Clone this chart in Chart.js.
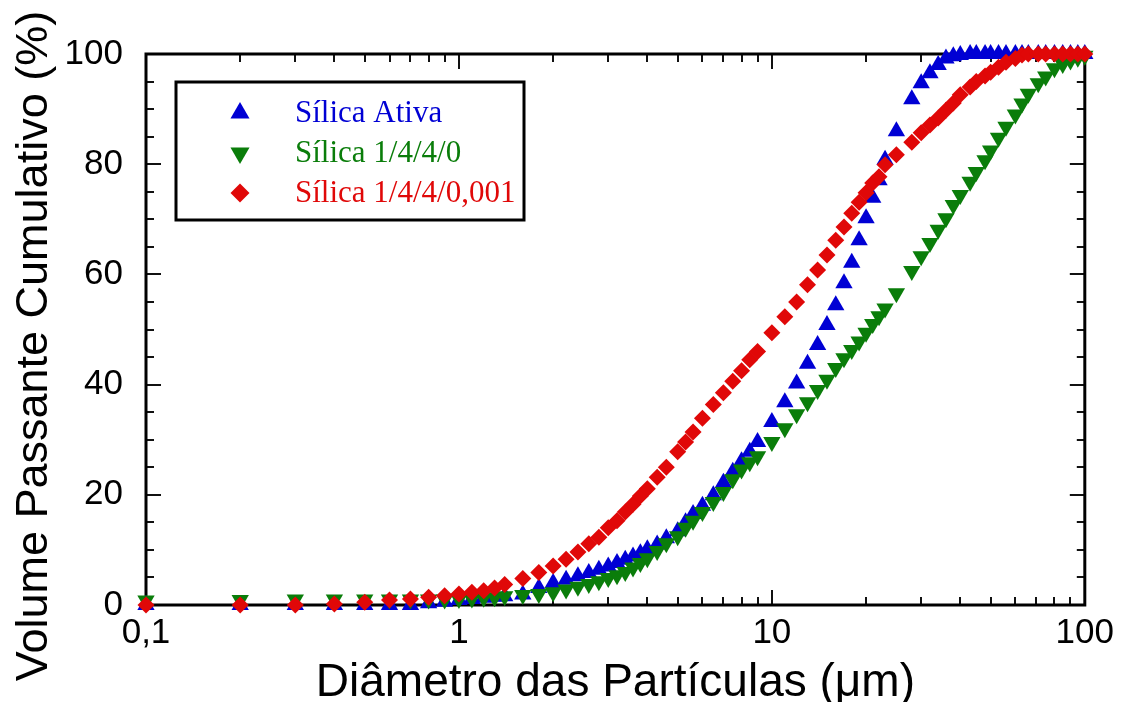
<!DOCTYPE html>
<html>
<head>
<meta charset="utf-8">
<script src="https://cdn.jsdelivr.net/npm/chart.js@4.4.1/dist/chart.umd.min.js"></script>
<style>
  html, body { margin: 0; padding: 0; background: #fff; }
  #wrap { width: 1121px; height: 702px; }
</style>
</head>
<body>
<div id="wrap"><canvas id="psdChart" width="1121" height="702"></canvas></div>
<script>
// diâmetro (µm) - mesma grade de classes para as três amostras
const diameters = [
  0.1, 0.2, 0.3, 0.4, 0.5, 0.6, 0.7, 0.8, 0.9,
  1.0, 1.1, 1.2, 1.3, 1.4, 1.6, 1.8,
  2.0, 2.2, 2.4, 2.6, 2.8, 3.0, 3.2, 3.4, 3.6, 3.8,
  4.0, 4.3, 4.6, 5.0, 5.3, 5.6,
  6.0, 6.5, 7.0, 7.5, 8.0, 8.5, 9.0,
  10, 11, 12, 13, 14, 15, 16, 17, 18, 19, 20, 21, 22, 23,
  25, 28, 30, 32, 34, 36, 38, 40,
  43, 45, 48, 50, 53, 56, 60, 63, 66,
  71, 75, 80, 85, 90, 95, 100
];

const silicaAtiva = [
  0, 0, 0, 0, 0, 0, 0, 0.3, 0.6,
  0.9, 1.1, 1.3, 1.5, 1.6, 1.9, 3.1,
  4.0, 4.6, 5.2, 5.8, 6.4, 7.0, 7.6, 8.2, 8.8, 9.4,
  10.1, 11.0, 12.1, 13.4, 15.0, 16.5,
  18.0, 19.9, 22.2, 24.2, 26.1, 27.8, 29.6,
  33.2, 36.8, 40.2, 43.8, 47.2, 50.8, 54.4, 58.4, 62.1, 66.2, 70.2, 73.9, 77.1, 80.8,
  86.0, 91.8, 94.7, 96.5, 98.0, 99.2, 99.6, 99.8,
  100, 100, 100, 100, 100, 100, 100, 100, 100,
  100, 100, 100, 100, 100, 100, 100
];

const silica1440 = [
  0.8, 0.9, 1.0, 1.0, 1.0, 1.0, 1.0, 1.0, 1.0,
  1.1, 1.2, 1.3, 1.4, 1.6, 1.8, 2.0,
  2.3, 2.8, 3.3, 3.8, 4.3, 4.9, 5.4, 6.0, 6.8, 7.6,
  8.5, 9.8, 11.2, 12.5, 14.0, 15.3,
  16.9, 18.7, 20.5, 22.8, 24.6, 25.9, 27.0,
  29.6, 32.1, 34.6, 36.8, 39.0, 40.9, 43.0, 44.8, 46.3, 47.8, 49.4, 51.0, 52.4, 53.8,
  56.6, 60.6, 63.3, 65.7, 68.1, 70.2, 72.6, 74.4,
  76.8, 78.6, 80.7, 82.5, 84.8, 86.8, 89.0, 91.0, 92.8,
  94.7, 95.9, 97.4, 98.2, 98.8, 99.3, 99.7
];

const silica1440001 = [
  0, 0, 0, 0.2, 0.5, 0.9, 1.1, 1.4, 1.7,
  2.0, 2.3, 2.6, 3.1, 3.7, 4.8, 5.9,
  7.1, 8.3, 9.6, 11.1, 12.3, 14.0, 15.3, 16.9, 18.3, 19.8,
  21.1, 23.2, 25.0, 27.8, 29.6, 31.4,
  33.9, 36.4, 38.5, 40.6, 42.5, 44.5, 46.0,
  49.4, 52.3, 55.0, 58.1, 60.8, 63.5, 66.2, 68.6, 71.1, 73.1, 74.8, 76.6, 77.7, 79.9,
  81.7, 84.0, 85.7, 87.1, 88.4, 89.8, 91.1, 92.6,
  94.0, 95.0, 96.0, 96.7, 97.6, 98.5, 99.2, 99.8, 100,
  100, 100, 100, 100, 100, 100, 100
];

const seriesNames = ['Sílica Ativa', 'Sílica 1/4/4/0', 'Sílica 1/4/4/0,001'];
const seriesColors = ['#0000d4', '#0a7d0a', '#e00808'];
const xTickValues = [0.1, 1, 10, 100];
const xTickLabels = ['0,1', '1', '10', '100'];
const yTickValues = [0, 20, 40, 60, 80, 100];
const xTitle = 'Diâmetro das Partículas (μm)';
const yTitle = 'Volume Passante Cumulativo (%)';

const markerStyles = [
  { pointStyle: 'triangle', rotation: 0, radius: 10 },
  { pointStyle: 'triangle', rotation: 180, radius: 10 },
  { pointStyle: 'rectRot', rotation: 0, radius: 8.5 }
];

function toPoints(ys) {
  return diameters.map((x, i) => ({ x: x, y: ys[i] }));
}

function drawMarker(ctx, style, color, x, y) {
  ctx.save();
  ctx.fillStyle = color;
  ctx.strokeStyle = color;
  if (Chart.helpers && Chart.helpers.drawPoint) {
    Chart.helpers.drawPoint(ctx, { pointStyle: style.pointStyle, rotation: style.rotation, radius: style.radius + 1, borderWidth: 0 }, x, y);
  }
  ctx.restore();
}

// moldura, ticks internos, legenda e títulos
const framePlugin = {
  id: 'frameTicks',
  beforeDatasetsDraw(chart) {
    const ctx = chart.ctx;
    const xs = chart.scales.x;
    const ys = chart.scales.y;
    const { left, right, top, bottom } = chart.chartArea;

    ctx.save();
    ctx.strokeStyle = '#111';
    ctx.lineWidth = 2;
    ctx.beginPath();
    for (let e = -1; e < 2; e++) {
      for (let d = 1; d < 10; d++) {
        const px = Math.round(xs.getPixelForValue(d * Math.pow(10, e)));
        const len = d === 1 ? 15 : 8;
        ctx.moveTo(px, bottom); ctx.lineTo(px, bottom - len);
        ctx.moveTo(px, top); ctx.lineTo(px, top + len);
      }
    }
    for (let v = 0; v <= 100; v += 5) {
      const py = Math.round(ys.getPixelForValue(v));
      const len = v % 20 === 0 ? 15 : 8;
      ctx.moveTo(left, py); ctx.lineTo(left + len, py);
      ctx.moveTo(right, py); ctx.lineTo(right - len, py);
    }
    ctx.stroke();

    ctx.strokeStyle = '#000';
    ctx.lineWidth = 3;
    ctx.strokeRect(left, top, right - left, bottom - top);
    ctx.restore();
  },
  afterDraw(chart) {
    const ctx = chart.ctx;
    const { left, right } = chart.chartArea;

    // legenda
    ctx.save();
    ctx.strokeStyle = '#000';
    ctx.lineWidth = 3;
    ctx.fillStyle = '#fff';
    ctx.fillRect(176, 82, 348, 138);
    ctx.strokeRect(176, 82, 348, 138);
    const rows = [113, 153, 193];
    seriesNames.forEach((name, i) => {
      drawMarker(ctx, markerStyles[i], seriesColors[i], 240, rows[i]);
      ctx.fillStyle = seriesColors[i];
      ctx.font = '31px "Liberation Serif"';
      ctx.textBaseline = 'middle';
      ctx.textAlign = 'left';
      ctx.fillText(name, 295, rows[i] + 1);
    });
    ctx.restore();

    // títulos dos eixos
    ctx.save();
    ctx.fillStyle = '#000';
    ctx.font = '46px "Liberation Sans"';
    ctx.textAlign = 'center';
    ctx.textBaseline = 'middle';
    ctx.fillText(xTitle, (left + right) / 2, 683);
    ctx.translate(35, 346);
    ctx.rotate(-Math.PI / 2);
    ctx.font = '45px "Liberation Sans"';
    ctx.fillText(yTitle, 0, 0);
    ctx.restore();
  }
};

const datasets = [silicaAtiva, silica1440, silica1440001].map((ys, i) => ({
  label: seriesNames[i],
  data: toPoints(ys),
  pointStyle: markerStyles[i].pointStyle,
  rotation: markerStyles[i].rotation,
  pointRadius: markerStyles[i].radius,
  pointHoverRadius: markerStyles[i].radius,
  backgroundColor: seriesColors[i],
  borderColor: seriesColors[i],
  borderWidth: 0,
  showLine: false,
  clip: false,
  order: 2 - i
}));

new Chart(document.getElementById('psdChart'), {
  type: 'scatter',
  data: { datasets: datasets },
  options: {
    responsive: false,
    devicePixelRatio: 1,
    animation: false,
    layout: { padding: { top: 54, right: 34, left: 0, bottom: 0 } },
    plugins: {
      legend: { display: false },
      tooltip: { enabled: false }
    },
    scales: {
      x: {
        type: 'logarithmic',
        min: 0.1,
        max: 100,
        grid: { display: false, drawTicks: false },
        border: { display: false },
        afterBuildTicks: (scale) => {
          scale.ticks = xTickValues.map(v => ({ value: v }));
        },
        afterFit: (scale) => { scale.height = 97; },
        ticks: {
          autoSkip: false,
          maxRotation: 0,
          padding: 7,
          color: '#000',
          font: { family: 'Liberation Sans', size: 35 },
          callback: (value) => {
            const idx = xTickValues.findIndex(v => Math.abs(v - value) < 1e-9);
            return idx >= 0 ? xTickLabels[idx] : '';
          }
        }
      },
      y: {
        min: 0,
        max: 100,
        grid: { display: false, drawTicks: false },
        border: { display: false },
        afterBuildTicks: (scale) => {
          scale.ticks = yTickValues.map(v => ({ value: v }));
        },
        afterFit: (scale) => { scale.width = 146; },
        ticks: {
          padding: 23,
          color: '#000',
          font: { family: 'Liberation Sans', size: 35 }
        }
      }
    }
  },
  plugins: [framePlugin]
});
</script>
</body>
</html>
